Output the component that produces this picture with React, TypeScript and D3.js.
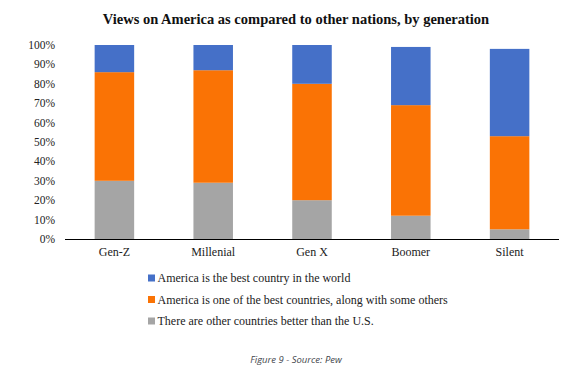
import React from "react";
import * as d3 from "d3";

const categories = ["Gen-Z", "Millenial", "Gen X", "Boomer", "Silent"];
const seriesNames = [
  "There are other countries better than the U.S.",
  "America is one of the best countries, along with some others",
  "America is the best country in the world",
];
const otherBetter = [30, 29, 20, 12, 5];
const oneOfBest = [56, 58, 60, 57, 48];
const theBest = [14, 13, 20, 30, 45];
const yTicks = [0, 10, 20, 30, 40, 50, 60, 70, 80, 90, 100];
const colors = ["#A5A5A5", "#FA7305", "#4570C8"];

const W = 580;
const H = 375;
const left = 65;
const right = 559;
const top = 45;
const bottom = 239;

const serif = { fontFamily: "Liberation Serif" };
const sans = { fontFamily: "Open Sans" };

export default function App() {
  const x = d3.scaleBand<string>().domain(categories).range([left, right]).paddingInner(0.6).paddingOuter(0.3);
  const y = d3.scaleLinear().domain([0, 100]).range([bottom, top]);
  const table = categories.map((c, i) => ({ cat: c, a: otherBetter[i], b: oneOfBest[i], c: theBest[i] }));
  const stacked = d3.stack<any>().keys(["a", "b", "c"])(table);
  const legendOrder = [2, 1, 0];
  return (
    <svg width={W} height={H} style={{ position: "absolute", left: 0, top: 0, background: "#fff" }}>
      <text x={296} y={24} textAnchor="middle" style={serif} fontWeight="bold" fontSize={14.5} fill="#111">
        Views on America as compared to other nations, by generation
      </text>
      {yTicks.map((t) => (
        <text key={t} x={55} y={y(t)} dy="0.35em" textAnchor="end" style={serif} fontSize={11.5} fill="#222">
          {t}%
        </text>
      ))}
      {stacked.map((s, si) => (
        <g key={si} fill={colors[si]}>
          {s.map((d, i) => (
            <rect key={i} x={x(categories[i])} y={y(d[1])} width={x.bandwidth()} height={y(d[0]) - y(d[1])} />
          ))}
        </g>
      ))}
      <line x1={left} x2={right} y1={bottom + 0.5} y2={bottom + 0.5} stroke="#000" strokeWidth={1} />
      {categories.map((c) => (
        <text key={c} x={(x(c) as number) + x.bandwidth() / 2} y={256} textAnchor="middle" style={serif} fontSize={12} fill="#222">
          {c}
        </text>
      ))}
      {legendOrder.map((si, k) => (
        <g key={si} transform={`translate(148, ${278 + k * 21.5})`}>
          <rect x={0} y={-3.5} width={7} height={7} fill={colors[si]} />
          <text x={9.5} y={0} dy="0.35em" style={serif} fontSize={12} fill="#222">
            {seriesNames[si]}
          </text>
        </g>
      ))}
      <text x={296} y={362.5} textAnchor="middle" style={sans} fontStyle="italic" fontSize={9.5} fill="#44474d">
        Figure 9 - Source: Pew
      </text>
    </svg>
  );
}
